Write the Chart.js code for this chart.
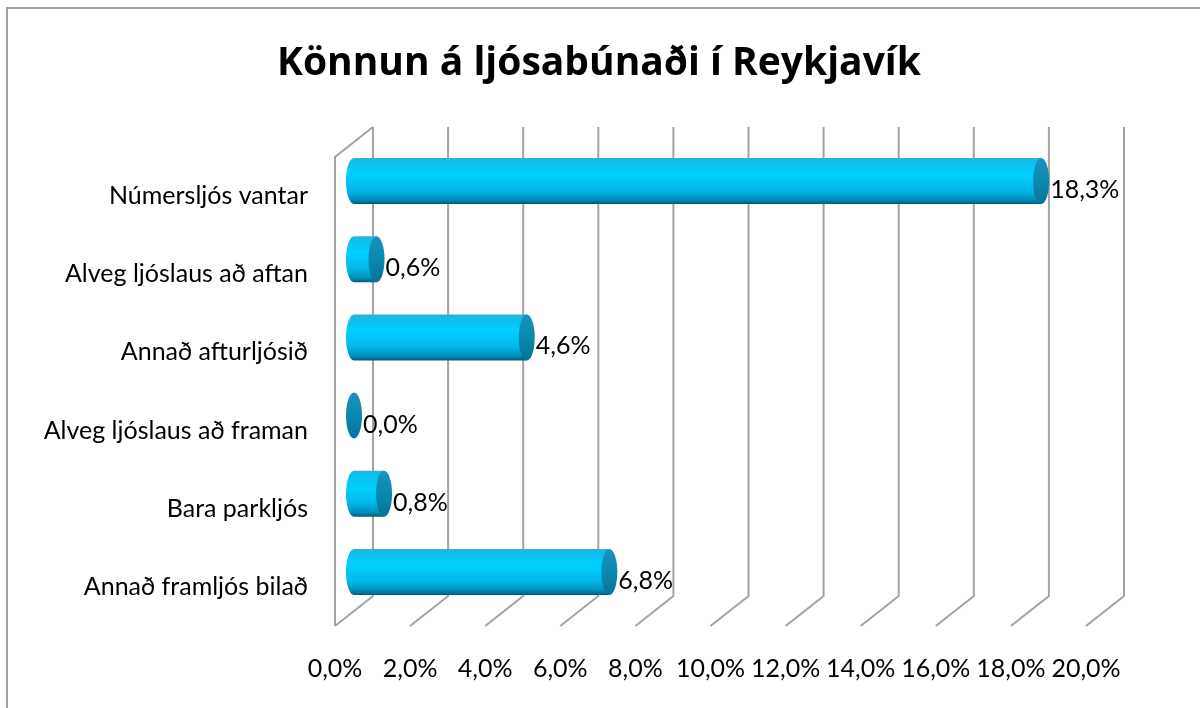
<!DOCTYPE html>
<html><head><meta charset="utf-8">
<script src="https://cdn.jsdelivr.net/npm/chart.js@4.4.1/dist/chart.umd.min.js"></script>
<style>html,body{margin:0;padding:0;background:#fff}#wrap{position:relative;width:1200px;height:708px}</style>
</head><body><div id="wrap"><canvas id="c" width="1200" height="708"></canvas></div>
<script>
const chartTitle = 'Könnun á ljósabúnaði í Reykjavík';
const categories = ['Númersljós vantar', 'Alveg ljóslaus að aftan', 'Annað afturljósið', 'Alveg ljóslaus að framan', 'Bara parkljós', 'Annað framljós bilað'];
const values = [18.3, 0.6, 4.6, 0.0, 0.8, 6.8];
const tickValues = [0, 2, 4, 6, 8, 10, 12, 14, 16, 18, 20];

const FONT = 'Lato, "Open Sans", sans-serif';
const TITLE_FONT = '"Open Sans", Lato, sans-serif';
const FS = 25;
const DX = 19, DY = 15, RX = 8;
const fmt = v => v.toFixed(1).replace('.', ',') + '%';

const wallPlugin = {
  id: 'wall',
  beforeDraw(chart) {
    const ctx = chart.ctx;
    ctx.save();
    ctx.fillStyle = '#fff';
    ctx.fillRect(0, 0, chart.width, chart.height);
    ctx.strokeStyle = '#a0a0a0';
    ctx.lineWidth = 2;
    ctx.strokeRect(7, 8, 1400, 900);
    ctx.fillStyle = '#000';
    ctx.font = 'bold 39px ' + TITLE_FONT;
    ctx.textAlign = 'center';
    ctx.textBaseline = 'alphabetic';
    ctx.fillText(chartTitle, 599, 75);
    ctx.restore();
  },
  beforeDatasetsDraw(chart) {
    const ctx = chart.ctx, xs = chart.scales.x, a = chart.chartArea;
    ctx.save();
    ctx.strokeStyle = '#a3a3a3';
    ctx.lineWidth = 2;
    ctx.lineCap = 'butt';
    tickValues.forEach(v => {
      const xm = xs.getPixelForValue(v);
      ctx.beginPath();
      ctx.moveTo(xm + DX, a.top - DY);
      ctx.lineTo(xm + DX, a.bottom - DY);
      ctx.lineTo(xm - DX, a.bottom + DY);
      ctx.stroke();
    });
    const x0 = xs.getPixelForValue(tickValues[0]);
    ctx.beginPath();
    ctx.moveTo(x0 + DX, a.top - DY);
    ctx.lineTo(x0 - DX, a.top + DY);
    ctx.lineTo(x0 - DX, a.bottom + DY);
    ctx.stroke();
    ctx.restore();
  },
  afterDatasetsDraw(chart) {
    const ctx = chart.ctx;
    const meta = chart.getDatasetMeta(0);
    ctx.save();
    meta.data.forEach((el, i) => {
      const p = el.getProps(['x', 'y', 'base', 'height'], true);
      const x0 = Math.min(p.base, p.x), x1 = Math.max(p.base, p.x);
      const yc = p.y, ry = p.height / 2, top = yc - ry, bot = yc + ry;
      if (x1 - x0 > 0.5) {
        const g = ctx.createLinearGradient(0, top, 0, bot);
        g.addColorStop(0, '#4aa8c4');
        g.addColorStop(0.05, '#10bce8');
        g.addColorStop(0.35, '#00d0ff');
        g.addColorStop(0.7, '#00b8e8');
        g.addColorStop(0.9, '#0090bc');
        g.addColorStop(1, '#005c7a');
        ctx.beginPath();
        ctx.moveTo(x1, top);
        ctx.lineTo(x0, top);
        ctx.ellipse(x0, yc, RX, ry, 0, -Math.PI / 2, Math.PI / 2, true);
        ctx.lineTo(x1, bot);
        ctx.closePath();
        ctx.fillStyle = g;
        ctx.fill();
      }
      const g2 = ctx.createLinearGradient(0, top, 0, bot);
      g2.addColorStop(0, '#1a94bc');
      g2.addColorStop(0.5, '#0a88b0');
      g2.addColorStop(1, '#06729a');
      ctx.beginPath();
      ctx.ellipse(x1, yc, RX, ry, 0, 0, Math.PI * 2);
      ctx.fillStyle = g2;
      ctx.fill();
      ctx.fillStyle = '#000';
      ctx.font = FS + 'px ' + FONT;
      ctx.textAlign = 'left';
      ctx.textBaseline = 'middle';
      ctx.fillText(fmt(values[i]), x1 + RX + 1, yc + 9);
    });
    ctx.restore();
  }
};

new Chart(document.getElementById('c'), {
  type: 'bar',
  data: {
    labels: categories,
    datasets: [{
      data: values,
      backgroundColor: 'rgba(0,0,0,0)',
      borderWidth: 0,
      barPercentage: 0.588,
      categoryPercentage: 1
    }]
  },
  options: {
    indexAxis: 'y',
    responsive: false,
    animation: false,
    devicePixelRatio: 1,
    layout: { padding: { left: 0, right: 95, top: 142, bottom: 0 } },
    plugins: {
      legend: { display: false },
      tooltip: { enabled: false },
      title: { display: false }
    },
    scales: {
      x: {
        type: 'linear', min: 0, max: 20, position: 'bottom',
        grid: { display: false, drawTicks: false },
        border: { display: false },
        afterBuildTicks: s => { s.ticks = tickValues.map(v => ({ value: v })); },
        ticks: { labelOffset: -DX, padding: 43, color: '#000', font: { family: FONT, size: FS }, callback: v => fmt(v), maxRotation: 0, autoSkip: false },
        afterFit: s => { s.height = 97; }
      },
      y: {
        type: 'category', position: 'left',
        grid: { display: false, drawTicks: false },
        border: { display: false },
        ticks: { labelOffset: 15, padding: 46, color: '#000', font: { family: FONT, size: FS }, autoSkip: false },
        afterFit: s => { s.width = 354; }
      }
    }
  },
  plugins: [wallPlugin]
});
</script>
</body></html>
